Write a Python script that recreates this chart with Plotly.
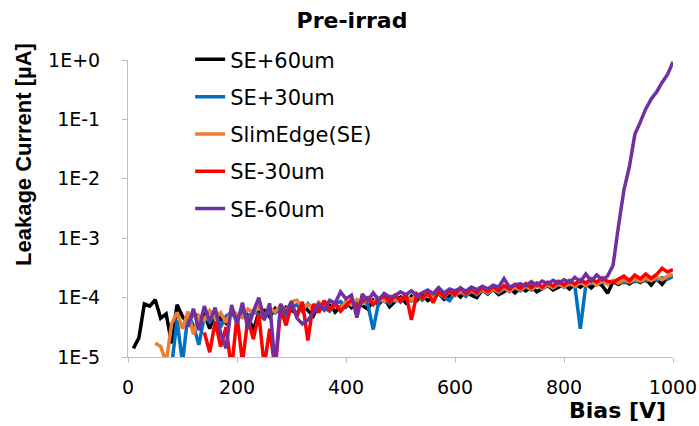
import plotly.graph_objects as go

# Bias sweeps (V), 10 V steps; each sensor starts where its current became measurable
bias_se_p60 = list(range(10, 1001, 10))
bias_se_p30 = list(range(80, 1001, 10))
bias_se = list(range(50, 1001, 10))
bias_se_m30 = list(range(140, 1001, 10))
bias_se_m60 = list(range(110, 1001, 10))

# Leakage current (uA)
cur_se_p60 = [
    1.4e-5, 2.1e-5, 7.8e-5, 7.2e-5, 9.2e-5, 4.5e-5, 5.3e-5, 1.7e-5, 7.6e-5, 4.8e-5,
    3.6e-5, 5.5e-5, 4.6e-5, 5.2e-5, 3.0e-5, 5.8e-5, 4.3e-5, 3.7e-5, 5.9e-5, 4.4e-5,
    6.4e-5, 5.0e-5, 2.8e-5, 5.7e-5, 6.1e-5, 4.7e-5, 6.6e-5, 5.5e-5, 6.9e-5, 6.2e-5,
    5.4e-5, 7.6e-5, 6.1e-5, 4.9e-5, 7.9e-5, 6.3e-5, 8.2e-5, 5.7e-5, 7.0e-5, 8.4e-5,
    6.8e-5, 9.0e-5, 7.3e-5, 6.4e-5, 9.1e-5, 7.7e-5, 9.8e-5, 7.0e-5, 8.6e-5, 1.02e-4,
    8.1e-5, 1.06e-4, 9.0e-5, 1.12e-4, 8.9e-5, 1.0e-4, 1.18e-4, 9.4e-5, 1.08e-4, 1.25e-4,
    1.02e-4, 1.28e-4, 1.1e-4, 1.0e-4, 1.34e-4, 1.15e-4, 1.38e-4, 1.12e-4, 1.26e-4, 1.45e-4,
    1.2e-4, 1.47e-4, 1.3e-4, 1.55e-4, 1.25e-4, 1.42e-4, 1.6e-4, 1.35e-4, 1.52e-4, 1.66e-4,
    1.4e-4, 1.7e-4, 1.5e-4, 1.75e-4, 1.46e-4, 1.8e-4, 1.6e-4, 1.18e-4, 1.85e-4, 1.66e-4,
    1.92e-4, 1.7e-4, 1.98e-4, 1.8e-4, 2.05e-4, 1.62e-4, 2.1e-4, 1.68e-4, 2.2e-4, 2.32e-4,
]
cur_se_p30 = [
    7e-6, 4.2e-5, 8e-6, 5.2e-5, 3.4e-5, 1.6e-5, 4.8e-5, 3.9e-5, 5.4e-5, 3.2e-5,
    4.9e-5, 5.6e-5, 4.1e-5, 5.9e-5, 4.6e-5, 6.0e-5, 5.1e-5, 4.4e-5, 6.2e-5, 5.5e-5,
    6.5e-5, 4.8e-5, 7.0e-5, 7.6e-5, 5.8e-5, 7.9e-5, 6.3e-5, 8.3e-5, 6.7e-5, 5.9e-5,
    7.8e-5, 8.6e-5, 6.9e-5, 8.8e-5, 7.4e-5, 9.2e-5, 7.6e-5, 2.9e-5, 8.4e-5, 9.6e-5,
    7.9e-5, 1.0e-4, 8.4e-5, 1.06e-4, 8.8e-5, 1.1e-4, 9.1e-5, 1.14e-4, 9.6e-5, 1.18e-4,
    1.0e-4, 8.9e-5, 1.2e-4, 1.27e-4, 1.05e-4, 1.3e-4, 1.12e-4, 1.34e-4, 1.16e-4, 1.38e-4,
    1.2e-4, 1.43e-4, 1.26e-4, 1.48e-4, 1.3e-4, 1.53e-4, 1.34e-4, 1.58e-4, 1.4e-4, 1.62e-4,
    1.45e-4, 1.67e-4, 1.5e-4, 1.72e-4, 1.55e-4, 3.0e-5, 1.62e-4, 1.78e-4, 1.66e-4, 1.84e-4,
    1.7e-4, 1.9e-4, 1.95e-4, 1.78e-4, 2.0e-4, 1.85e-4, 2.05e-4, 1.9e-4, 2.1e-4, 1.95e-4,
    2.15e-4, 2.05e-4, 2.25e-4,
]
cur_se = [
    1.7e-5, 1.5e-5, 8e-6, 3.6e-5, 5.6e-5, 3.0e-5, 5.8e-5, 2.4e-5, 5.0e-5, 4.2e-5,
    6.0e-5, 4.5e-5, 5.6e-5, 3.8e-5, 6.2e-5, 5.2e-5, 4.6e-5, 6.4e-5, 5.5e-5, 7.2e-5,
    4.9e-5, 6.6e-5, 5.8e-5, 7.4e-5, 6.0e-5, 8.6e-5, 9.0e-5, 6.8e-5, 7.6e-5, 6.5e-5,
    8.3e-5, 7.0e-5, 8.8e-5, 7.3e-5, 6.6e-5, 8.7e-5, 7.5e-5, 9.3e-5, 7.9e-5, 9.7e-5,
    8.2e-5, 1.0e-4, 8.5e-5, 1.05e-4, 8.8e-5, 9.4e-5, 1.09e-4, 9.2e-5, 1.13e-4, 9.7e-5,
    1.17e-4, 1.0e-4, 1.22e-4, 1.04e-4, 1.27e-4, 1.08e-4, 1.3e-4, 1.13e-4, 1.34e-4, 1.17e-4,
    1.38e-4, 1.2e-4, 1.42e-4, 1.25e-4, 1.46e-4, 1.29e-4, 1.52e-4, 1.33e-4, 1.56e-4, 1.38e-4,
    1.6e-4, 1.42e-4, 1.65e-4, 1.47e-4, 1.7e-4, 1.52e-4, 1.75e-4, 1.56e-4, 1.8e-4, 1.6e-4,
    1.85e-4, 1.64e-4, 1.9e-4, 1.7e-4, 1.96e-4, 1.75e-4, 2.02e-4, 1.8e-4, 2.08e-4, 1.86e-4,
    2.14e-4, 1.92e-4, 2.2e-4, 2.0e-4, 2.3e-4, 2.45e-4,
]
cur_se_m30 = [
    2.6e-5, 1.2e-5, 4.0e-5, 1.5e-5, 3.2e-5, 6e-6, 5.0e-5, 8e-6, 4.4e-5, 2.0e-5,
    5.3e-5, 7e-6, 3.0e-5, 6e-6, 6.4e-5, 3.4e-5, 7.6e-5, 4.8e-5, 8.5e-5, 1.9e-5,
    7.8e-5, 5.6e-5, 8.9e-5, 6.2e-5, 8.1e-5, 5.9e-5, 7.4e-5, 9.2e-5, 6.8e-5, 8.6e-5,
    1.0e-4, 7.6e-5, 9.4e-5, 1.08e-4, 8.4e-5, 1.1e-4, 8.8e-5, 1.14e-4, 4.2e-5, 1.16e-4,
    9.8e-5, 1.22e-4, 8.2e-5, 1.28e-4, 1.04e-4, 1.34e-4, 1.12e-4, 1.45e-4, 1.16e-4, 1.4e-4,
    1.2e-4, 1.48e-4, 1.26e-4, 1.54e-4, 1.3e-4, 1.6e-4, 1.38e-4, 1.66e-4, 1.42e-4, 1.72e-4,
    1.46e-4, 1.76e-4, 1.5e-4, 1.82e-4, 1.56e-4, 1.88e-4, 1.62e-4, 1.95e-4, 1.68e-4, 2.0e-4,
    1.76e-4, 2.08e-4, 1.82e-4, 2.15e-4, 1.88e-4, 1.8e-4, 2.05e-4, 2.3e-4, 1.92e-4, 2.4e-4,
    2.08e-4, 2.5e-4, 2.12e-4, 2.45e-4, 3.1e-4, 2.7e-4, 2.95e-4,
]
cur_se_m60 = [
    3.2e-5, 6.5e-5, 2.8e-5, 7.2e-5, 4.0e-5, 6.8e-5, 2.5e-5, 1.4e-5, 7.5e-5, 3.6e-5,
    8.2e-5, 3.0e-5, 5.8e-5, 1.0e-4, 4.2e-5, 8.0e-5, 7e-6, 7.8e-5, 5.4e-5, 8.6e-5,
    4.5e-5, 3.6e-5, 4.2e-5, 5.5e-5, 7.8e-5, 6.2e-5, 9.0e-5, 8.0e-5, 1.25e-4, 9.5e-5,
    1.1e-4, 4.6e-5, 1.15e-4, 8.8e-5, 1.2e-4, 9.0e-5, 1.18e-4, 1.02e-4, 1.08e-4, 1.25e-4,
    1.12e-4, 1.3e-4, 1.08e-4, 1.22e-4, 1.34e-4, 1.16e-4, 1.48e-4, 1.2e-4, 1.4e-4, 1.3e-4,
    1.45e-4, 1.28e-4, 1.5e-4, 1.36e-4, 1.55e-4, 1.4e-4, 1.62e-4, 1.5e-4, 2.1e-4, 1.5e-4,
    1.65e-4, 1.7e-4, 1.58e-4, 1.85e-4, 1.62e-4, 1.9e-4, 1.7e-4, 1.95e-4, 1.75e-4, 2.0e-4,
    1.8e-4, 2.2e-4, 1.85e-4, 2.5e-4, 1.9e-4, 2.4e-4, 2.0e-4, 2.3e-4, 3.5e-4, 1.6e-3,
    6.5e-3, 1.6e-2, 5.6e-2, 9.0e-2, 0.15, 0.22, 0.29, 0.42, 0.57, 0.93,
]

series_names = ["SE+60um", "SE+30um", "SlimEdge(SE)", "SE-30um", "SE-60um"]
series_colors = ["#000000", "#0070C0", "#ED7D31", "#FF0000", "#7030A0"]
series_bias = [bias_se_p60, bias_se_p30, bias_se, bias_se_m30, bias_se_m60]
series_current = [cur_se_p60, cur_se_p30, cur_se, cur_se_m30, cur_se_m60]

x_ticks = [0, 200, 400, 600, 800, 1000]
y_ticks = [1e0, 1e-1, 1e-2, 1e-3, 1e-4, 1e-5]
y_tick_text = ["1E+0", "1E-1", "1E-2", "1E-3", "1E-4", "1E-5"]

FONT = "DejaVu Sans"
AXIS_GREY = "#BFBFBF"

fig = go.Figure()
for name, color, xs, ys in zip(series_names, series_colors, series_bias, series_current):
    fig.add_trace(go.Scatter(
        x=xs, y=ys, mode="lines", name=name, legendgroup=name,
        line=dict(color=color, width=3.5),
    ))

fig.update_layout(
    width=699, height=426,
    margin=dict(l=128, r=26, t=60, b=69),
    paper_bgcolor="white", plot_bgcolor="white",
    font=dict(family=FONT, size=19, color="#000000"),
    title=dict(text="<b>Pre-irrad</b>", x=352 / 699, xref="container", xanchor="center",
               y=1 - 20 / 426, yref="container", yanchor="middle",
               font=dict(family=FONT, size=22, color="#000000")),
    showlegend=True,
    legend=dict(x=0.114, y=1.07, xanchor="left", yanchor="top",
                bgcolor="rgba(0,0,0,0)", traceorder="grouped", tracegroupgap=7,
                font=dict(family=FONT, size=21, color="#000000")),
    xaxis=dict(range=[0, 1000], tickvals=x_ticks, showgrid=False, zeroline=False,
               showline=True, linecolor=AXIS_GREY, linewidth=1, automargin=False,
               ticks="outside", ticklen=5, tickcolor=AXIS_GREY,
               ticklabelstandoff=8,
               tickfont=dict(family=FONT, size=19, color="#000000")),
    yaxis=dict(type="log", range=[-5, 0], tickvals=y_ticks, ticktext=y_tick_text,
               showgrid=False, zeroline=False, showline=True, linecolor=AXIS_GREY,
               linewidth=1, automargin=False, ticks="outside", ticklen=5,
               tickcolor=AXIS_GREY, ticklabelstandoff=18,
               tickfont=dict(family=FONT, size=19, color="#000000")),
    annotations=[
        dict(text="<b>Leakage Current [µA]</b>", textangle=-90, showarrow=False,
             xref="paper", yref="paper", x=(23 - 128) / 545, y=(357 - 155) / 297,
             xanchor="center", yanchor="middle",
             font=dict(family="Liberation Sans", size=22, color="#000000")),
        dict(text="<b>Bias [V]</b>", showarrow=False, xref="paper", yref="paper",
             x=(668 - 128) / 545, y=(357 - 410) / 297, xanchor="right", yanchor="middle",
             font=dict(family=FONT, size=22, color="#000000")),
    ],
)

fig.write_html("out.html")
